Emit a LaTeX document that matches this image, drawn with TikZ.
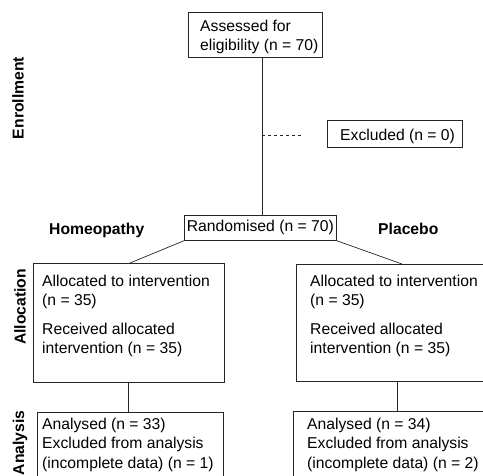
\documentclass[tikz,border=0pt]{standalone}
\usepackage{fontspec}
\setmainfont{Liberation Sans}
\usetikzlibrary{calc}
\begin{document}
\begin{tikzpicture}[x=1pt,y=-1pt,
  box/.style={draw=black!85, line width=0.7pt, rectangle, inner sep=0pt, anchor=north west},
  txt/.style={anchor=base west, inner sep=0pt, align=left, font=\fontsize{15.7}{19.3}\selectfont},
  lbl/.style={inner sep=0pt, font=\fontsize{15.7}{19}\selectfont\bfseries},
  link/.style={draw=black!85, line width=0.7pt}]
\fill[white] (0,0) rectangle (483,475);
\useasboundingbox (0,0) rectangle (483,475);

% phase labels
\node[lbl, rotate=90] (enrL) at (18,98) {Enrollment};
\node[lbl, rotate=90] (allocLbl) at (20,307) {Allocation};
\node[lbl, rotate=90] (anaLbl) at (20,443) {Analysis};

% enrollment (base anchor = baseline of the last line)
\node[box, minimum width=134pt, minimum height=45pt] (assess) at (188,12) {};
\node[txt] (assessT) at (200,50.5) {Assessed for\\eligibility (n = 70)};
\node[box, minimum width=135pt, minimum height=27pt] (excl) at (327,120) {};
\node[txt] (exclT) at (340,140.5) {Excluded (n = 0)};
\node[box, minimum width=152pt, minimum height=25pt, font=\fontsize{15.7}{19}\selectfont] (rand) at (184,215) {Randomised (n = 70)};

% arm labels
\node[lbl, anchor=base west] (homeo) at (49,234) {Homeopathy};
\node[lbl, anchor=base west] (placebo) at (378,234) {Placebo};

% allocation
\node[box, minimum width=191pt, minimum height=119pt] (allocL) at (33,263) {};
\node[txt] (allocLT) at (42,353.5) {Allocated to intervention\\(n = 35)\\[9.5pt]Received allocated\\intervention (n = 35)};
\node[box, minimum width=192pt, minimum height=117pt] (allocR) at (296,264) {};
\node[txt] (allocRT) at (310,353.5) {Allocated to intervention\\(n = 35)\\[9.5pt]Received allocated\\intervention (n = 35)};

% analysis
\node[box, minimum width=186pt, minimum height=80pt] (anaL) at (37,412) {};
\node[txt] (anaLT) at (42,468) {Analysed (n = 33)\\Excluded from analysis\\(incomplete data) (n = 1)};
\node[box, minimum width=195pt, minimum height=80pt] (anaR) at (293,411) {};
\node[txt] (anaRT) at (307,468) {Analysed (n = 34)\\Excluded from analysis\\(incomplete data) (n = 2)};

% connectors
\coordinate (split) at (262,135);
\coordinate (cL) at (128,0);
\coordinate (cR) at (397,0);
\draw[link] (assess.south -| split) -- (rand.north -| split);
\draw[link, dash pattern=on 3pt off 3pt, shorten >=24pt] (split) -- (split -| excl.west);
\draw[link] (rand.south west) -- ($(allocL.north west)+(97,0)$);
\draw[link] (rand.south east) -- ($(allocR.north west)+(106,0)$);
\draw[link] (allocL.south -| cL) -- (anaL.north -| cL);
\draw[link] (allocR.south -| cR) -- (anaR.north -| cR);
\end{tikzpicture}
\end{document}
